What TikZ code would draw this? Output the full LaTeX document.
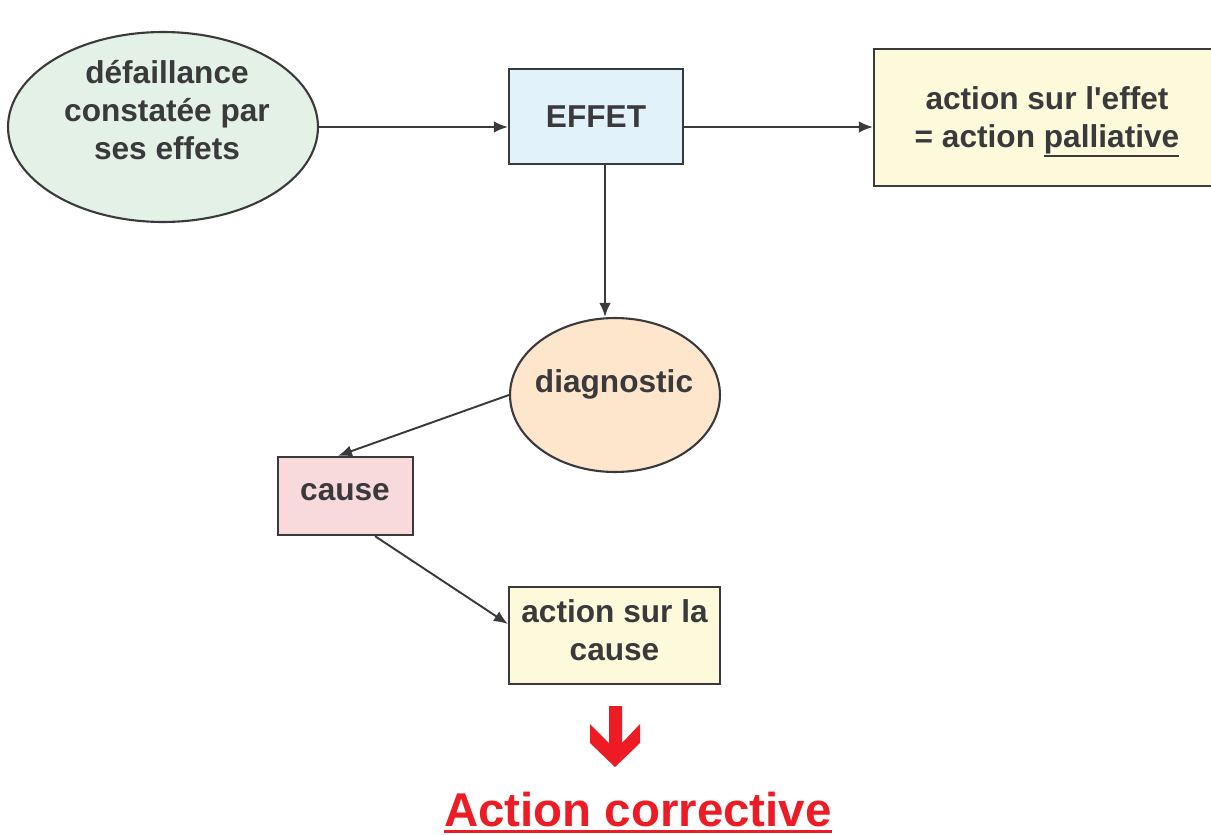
\documentclass[tikz,border=0pt]{standalone}
\usepackage{fontspec}
\setmainfont{Liberation Sans}
\usetikzlibrary{arrows.meta,positioning,shapes.geometric}
\definecolor{ink}{HTML}{3A3A3C}
\definecolor{alarm}{HTML}{ED1C24}
\definecolor{greenlight}{HTML}{E4F1E6}
\definecolor{bluelight}{HTML}{E1F2FA}
\definecolor{yellowlight}{HTML}{FCFADA}
\definecolor{orangelight}{HTML}{FDE6CC}
\definecolor{pinklight}{HTML}{F8DADD}
\newcommand{\thickul}[3]{\smash{\vtop{\hbox{#3}\kern#1\hrule height #2}}}
\tikzset{
  >=Latex,
  txt/.style={text=ink,font=\bfseries\fontsize{18}{21.5}\selectfont,
              align=center,inner sep=0pt},
  flowbox/.style={draw=ink,line width=1.3pt,inner sep=0pt,txt},
  oval/.style={draw=ink,line width=1.2pt,ellipse,inner sep=0pt},
  arrow/.style={-{Latex[length=2.8mm,width=2.3mm]},line width=1.1pt,draw=ink}
}

\begin{document}
\begin{tikzpicture}[x=0.02cm,y=-0.02cm,line join=miter]
  \useasboundingbox (0,0) rectangle (1211,835);
  \clip (0,0) rectangle (1211,835);

  % Top row
  \node[oval,fill=greenlight,minimum width=6.2cm,minimum height=3.8cm]
    (defail) at (163,127) {};
  \node[txt] (defailtxt) at (167,110)
    {défaillance\\constatée par\\ses effets};
  \node[flowbox,fill=bluelight,minimum width=3.48cm,minimum height=1.9cm]
    (effet) at (596,116.5) {EFFET};
  \node[flowbox,fill=yellowlight,minimum width=6.92cm,minimum height=2.74cm]
    (palli) at (1047,117.5)
    {action sur l\textquotesingle effet\\
     = action \thickul{0.5pt}{1.3pt}{palliative}};

  % Diagnostic branch
  \node[oval,fill=orangelight,minimum width=4.2cm,minimum height=3.08cm]
    (diag) at (615,395) {};
  \node[txt] (diagtxt) at (614,384) {diagnostic};
  \node[flowbox,fill=pinklight,minimum width=2.7cm,minimum height=1.56cm]
    (cause) at (345.5,496) {};
  \node[txt] (causetxt) at (345,492) {cause};
  \node[flowbox,fill=yellowlight,minimum width=4.22cm,minimum height=1.94cm]
    (actcause) at (614.5,635.5) {};
  \node[txt] (actcausetxt) at (614.5,630.5) {action sur la\\cause};

  % Result
  \fill[alarm] (609,706) -- (622,706) -- (622,743) -- (640,724) -- (640,743)
    -- (615,767) -- (590,743) -- (590,724) -- (609,743) -- cycle;
  \node[txt,text=alarm,font=\bfseries\fontsize{27}{32}\selectfont]
    (corrective) at (638,826) {\thickul{2.2pt}{1.7pt}{Action corrective}};

  \draw[arrow] (defail.east) -- (defail.east -| effet.west);
  \draw[arrow] (effet.east |- defail.east) -- (palli.west |- defail.east);
  \draw[arrow] ([xshift=0.18cm]effet.south)
    -- ([xshift=0.18cm]effet.south |- diag.north);
  \draw[arrow] (diag.west) -- ([xshift=-0.15cm]cause.north);
  \draw[arrow] ([xshift=0.59cm]cause.south)
    -- ([yshift=0.23cm]actcause.west);
\end{tikzpicture}
\end{document}
